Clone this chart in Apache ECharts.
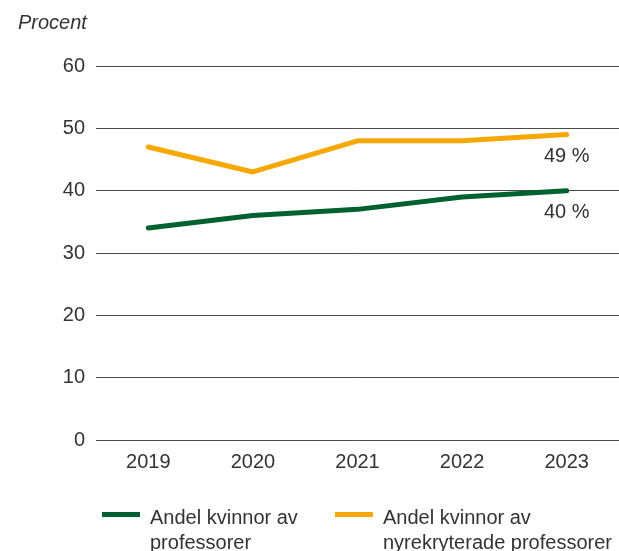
<!DOCTYPE html>
<html>
<head>
<meta charset="utf-8">
<script src="https://cdn.jsdelivr.net/npm/echarts@6/dist/echarts.min.js"></script>
<style>
  html, body { margin: 0; padding: 0; background: #fff; }
  #chartDiv { width: 619px; height: 551px; }
</style>
</head>
<body>
<div id="chartDiv"></div>
<script>
var years = ["2019", "2020", "2021", "2022", "2023"];
var andelProfessorer = [34, 36, 37, 39, 40];
var andelNyrekryterade = [47, 43, 48, 48, 49];
var seriesNames = ["Andel kvinnor av\nprofessorer", "Andel kvinnor av\nnyrekryterade professorer"];

var green = "#00602f";
var orange = "#f6a800";
var font = "Liberation Sans";
var textColor = "#333";
// legend icon: bar near the top of a taller box so it sits on the first text line
var legendIcon = "path://M0 0h0.01v0.01H0z M0 5h38v5H0z M0 47.99h0.01v0.01H0z";

var myChart = echarts.init(document.getElementById("chartDiv"));

function endLabel() {
  return {
    show: true,
    position: "bottom",
    distance: 11,
    formatter: function (p) {
      return p.dataIndex === years.length - 1 ? p.value + " %" : "";
    },
    fontFamily: font,
    fontSize: 20,
    color: textColor
  };
}

function legendFor(name, left) {
  return {
    data: [name],
    left: left, top: 501,
    icon: legendIcon, itemWidth: 38, itemHeight: 48, itemGap: 0,
    textStyle: { fontFamily: font, fontSize: 20, lineHeight: 25, color: textColor, padding: [0, 0, 0, 5] }
  };
}

var option = {
  animation: false,
  textStyle: { fontFamily: font },
  title: {
    text: "Procent",
    left: 13,
    top: 8,
    textStyle: { fontFamily: font, fontSize: 20, fontStyle: "italic", fontWeight: "normal", color: textColor }
  },
  legend: [legendFor(seriesNames[0], 97), legendFor(seriesNames[1], 330)],
  grid: { left: 96, top: 66, width: 526, height: 374 },
  xAxis: {
    type: "category",
    data: years,
    axisLine: { show: false },
    axisTick: { show: false },
    axisLabel: { fontFamily: font, fontSize: 20, color: textColor, margin: 12 }
  },
  yAxis: {
    type: "value",
    min: 0, max: 60, interval: 10,
    axisLine: { show: false },
    axisTick: { show: false },
    axisLabel: { fontFamily: font, fontSize: 20, color: textColor, margin: 11 },
    splitLine: { lineStyle: { color: "#4a4a4a", width: 1 } }
  },
  series: [
    {
      name: seriesNames[0],
      type: "line",
      data: andelProfessorer,
      color: green,
      symbol: "circle",
      symbolSize: 1,
      showSymbol: true,
      lineStyle: { width: 5, color: green, cap: "round" },
      label: endLabel(),
      z: 3
    },
    {
      name: seriesNames[1],
      type: "line",
      data: andelNyrekryterade,
      color: orange,
      symbol: "circle",
      symbolSize: 1,
      showSymbol: true,
      lineStyle: { width: 5, color: orange, cap: "round" },
      label: endLabel(),
      z: 3
    }
  ]
};

myChart.setOption(option);
</script>
</body>
</html>
